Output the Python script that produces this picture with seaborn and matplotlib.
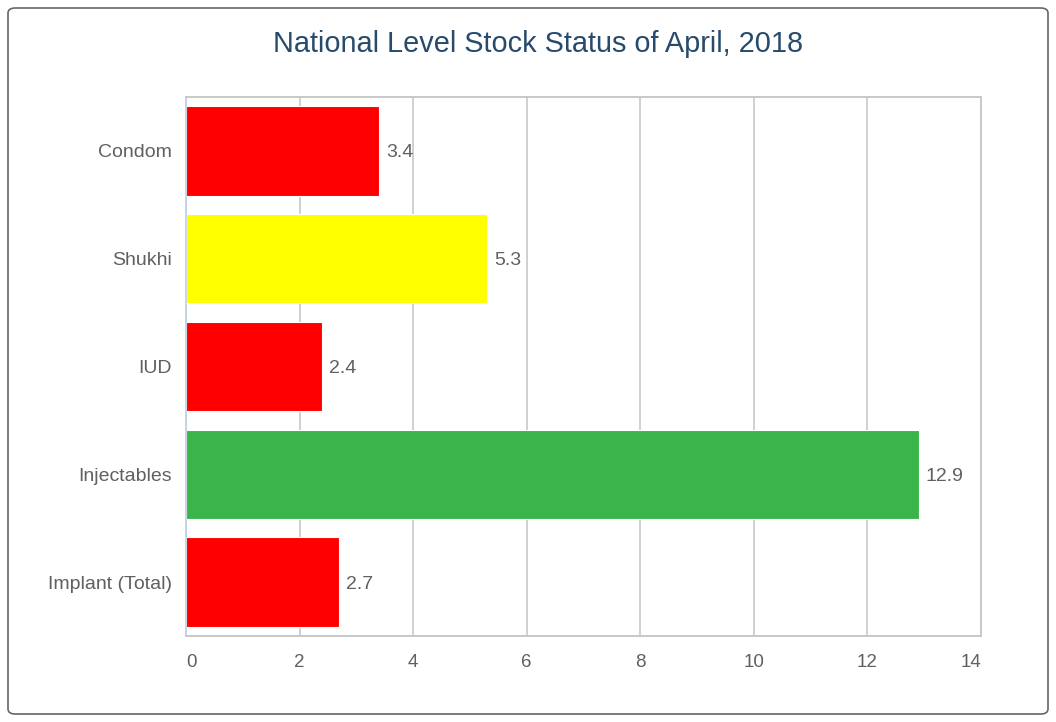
import numpy as np
import pandas as pd
import seaborn as sns
import matplotlib.pyplot as plt
from matplotlib.patches import FancyBboxPatch

# stock status (months of stock)
products = ["Condom", "Shukhi", "IUD", "Injectables", "Implant (Total)"]
months = [3.4, 5.3, 2.4, 12.9, 2.7]
bar_colors = ["#FF0000", "#FFFF00", "#FF0000", "#3BB54A", "#FF0000"]
x_ticks = [0, 2, 4, 6, 8, 10, 12, 14]

df = pd.DataFrame({"product": products, "months": months})

sns.set_style("white")
plt.rcParams["font.family"] = ["Liberation Sans", "DejaVu Sans"]

fig = plt.figure(figsize=(10.56, 7.22), dpi=100)
ax = fig.add_axes([186 / 1056, 1 - 636 / 722, 795 / 1056, 539 / 722])

sns.barplot(data=df, x="months", y="product", hue="product", palette=bar_colors,
            orient="h", width=0.83, legend=False, saturation=1, ax=ax,
            edgecolor="white", linewidth=0.8)

for c in ax.containers:
    txts = ax.bar_label(c, labels=[f"{v:.1f}" for v in c.datavalues], padding=5,
                        fontsize=14, color="#606060")
    for t in txts:
        t.set_va("center_baseline")

ax.set_xlim(0, 14)
ax.set_ylim(4.5, -0.5)
ax.set_xticks(x_ticks)
ax.set_xticklabels([str(t) for t in x_ticks])
xl = ax.get_xticklabels()
xl[0].set_ha("left")
xl[-1].set_ha("right")
ax.set_xlabel("")
ax.set_ylabel("")
ax.tick_params(axis="x", length=0, pad=13, labelsize=13.5, labelcolor="#606060")
ax.tick_params(axis="y", which="major", length=0, pad=10, labelsize=14,
               labelcolor="#606060")
ax.set_yticks(np.arange(-0.5, 5, 1), minor=True)
ax.tick_params(axis="y", which="minor", length=7, width=1.2, color="#C0D0E0")
ax.grid(axis="x", color="#C8C8C8", linewidth=1.2)
ax.set_axisbelow(True)

for side in ["top", "right", "bottom"]:
    ax.spines[side].set_color("#C8C8C8")
    ax.spines[side].set_linewidth(1.4)
ax.spines["left"].set_color("#C0D0E0")
ax.spines["left"].set_linewidth(1.2)

fig.text(538 / 1056, 1 - 44 / 722, "National Level Stock Status of April, 2018",
         ha="center", va="center", fontsize=20.8, color="#274B6D")

frame = FancyBboxPatch((8 / 1056, 8 / 722), 1040 / 1056, 706 / 722,
                       boxstyle="round,pad=0,rounding_size=0.007",
                       transform=fig.transFigure, facecolor="none",
                       edgecolor="#666666", linewidth=1.2)
fig.patches.append(frame)

fig.savefig("out.png", dpi=100)
